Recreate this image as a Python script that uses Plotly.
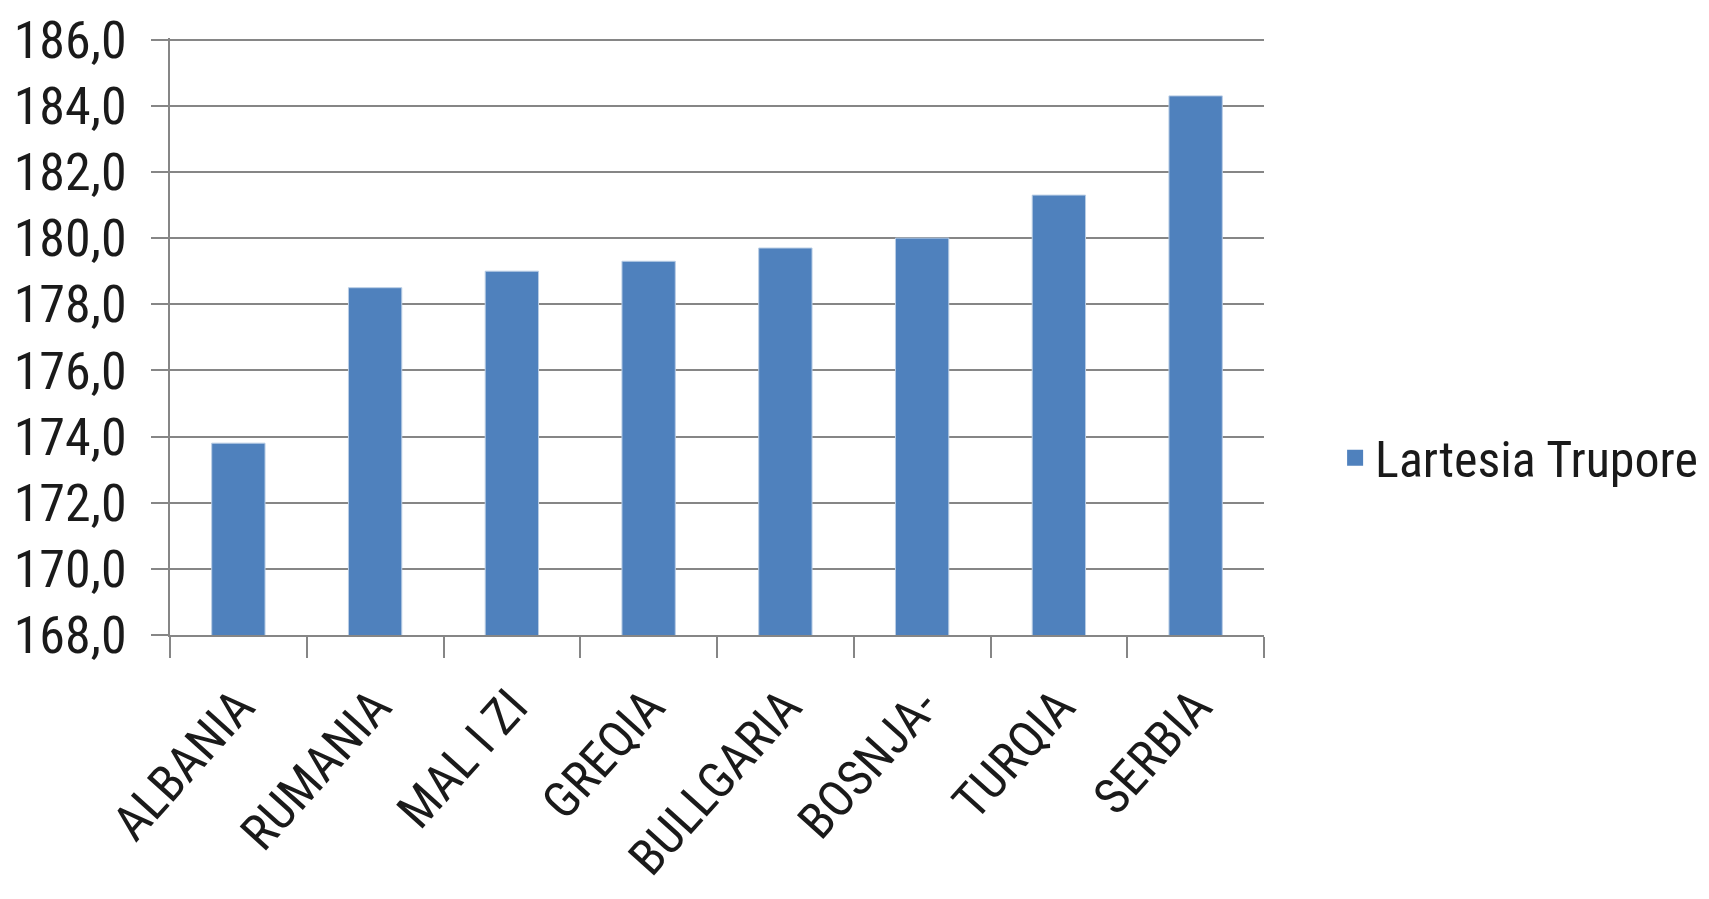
import plotly.graph_objects as go

categories = ["ALBANIA", "RUMANIA", "MAL I ZI", "GREQIA", "BULLGARIA", "BOSNJA-", "TURQIA", "SERBIA"]
values = [173.8, 178.5, 179.0, 179.3, 179.7, 180.0, 181.3, 184.3]
series_name = "Lartesia Trupore"
y_ticks = [168, 170, 172, 174, 176, 178, 180, 182, 184, 186]
y_tick_labels = ["168,0", "170,0", "172,0", "174,0", "176,0", "178,0", "180,0", "182,0", "184,0", "186,0"]

FONT = "Liberation Sans Narrow, Arial Narrow, Roboto Condensed, Liberation Sans, sans-serif"

fig = go.Figure()
fig.add_trace(go.Bar(
    x=categories, y=values, name=series_name,
    marker=dict(color="#4F81BD", line=dict(color="#B9CDE5", width=1)),
    showlegend=False,
))
fig.add_trace(go.Scatter(
    x=[None], y=[None], mode="markers", name=series_name,
    marker=dict(symbol="square", size=16, color="#4F81BD"),
    showlegend=True,
))

fig.update_layout(
    width=1709, height=899,
    margin=dict(l=162, r=453, t=30, b=272),
    paper_bgcolor="white", plot_bgcolor="white",
    bargap=0.61,
    font=dict(family=FONT, size=52, color="#1a1a1a"),
    legend=dict(x=1.065, y=0.297, xanchor="left", yanchor="middle",
                font=dict(size=50), itemsizing="trace"),
    xaxis=dict(
        automargin=False,
        showline=True, linecolor="#868686", linewidth=2,
        ticks="outside", ticklen=21, tickcolor="#868686", tickwidth=1.5,
        tickson="boundaries", tickangle=-48,
        ticklabelstandoff=20, ticklabeloverflow="allow",
        tickfont=dict(size=50),
        showgrid=False,
    ),
    yaxis=dict(
        automargin=False,
        range=[168, 186.05], tickvals=y_ticks, ticktext=y_tick_labels,
        showline=True, linecolor="#868686", linewidth=2,
        ticks="outside", ticklen=17, tickcolor="#868686", tickwidth=2,
        ticklabelstandoff=14, ticklabeloverflow="allow",
        showgrid=True, gridcolor="#868686", gridwidth=2,
        zeroline=False,
    ),
)

fig.write_html("out.html")
